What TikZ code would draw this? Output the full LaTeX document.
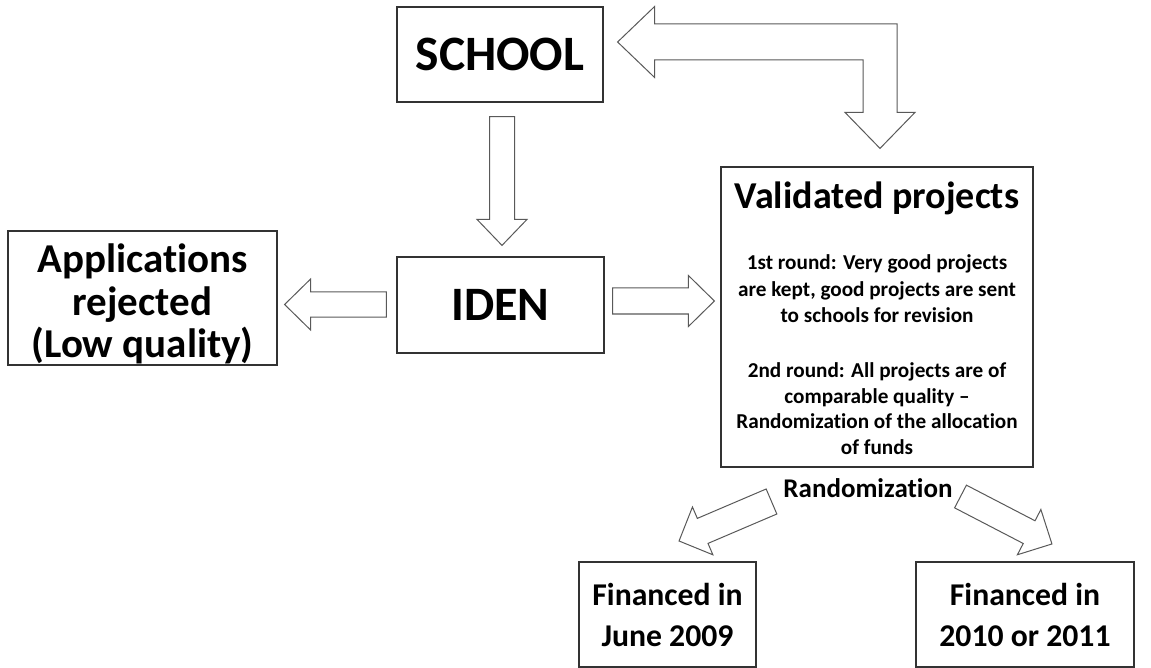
\documentclass[tikz,border=0pt]{standalone}
\usepackage{fontspec}
\setmainfont{Carlito}[Ligatures={TeX,NoCommon}]
\usetikzlibrary{calc}
\tikzset{
  box/.style={draw=black!80, line width=1.2pt, rectangle, inner sep=0pt, align=center, font=\bfseries},
  blk/.style={draw=black!65, line width=1pt, fill=white, line join=miter},
  txt/.style={inner sep=0pt, align=center, font=\bfseries},
}
\newcommand\blockarr[5]{% start, end, half shaft, half head, head length
  \draw[blk] let \p1=(#1), \p2=(#2), \n1={atan2(\y2-\y1,\x2-\x1)}, \n2={veclen(\x2-\x1,\y2-\y1)} in
    [shift={(\p1)}, rotate=\n1]
    (0,-#3) -- (\n2-#5,-#3) -- (\n2-#5,-#4) -- (\n2,0) -- (\n2-#5,#4) -- (\n2-#5,#3) -- (0,#3) -- cycle;}
\begin{document}
\begin{tikzpicture}[x=1pt,y=1pt]
\useasboundingbox (0,0) rectangle (1151,-668);
% boxes
\node[box, minimum width=206, minimum height=95, font=\bfseries\fontsize{49.5}{52}\selectfont] (school) at (500,-54.5) {SCHOOL};
\node[box, minimum width=207, minimum height=96, font=\bfseries\fontsize{48}{52}\selectfont] (iden) at (500.5,-305) {IDEN};
\node[box, minimum width=269, minimum height=134] (app) at (142.5,-298) {};
\node[txt, font=\bfseries\fontsize{41}{42.5}\selectfont] (apptext) at (142.5,-304) {Applications\\rejected\\(Low quality)};
\node[box, minimum width=312, minimum height=300] (valid) at (877,-317) {};
\node[txt, font=\bfseries\fontsize{38}{44}\selectfont] (vtitle) at (877,-198) {Validated projects};
\node[txt, font=\bfseries\fontsize{21.2}{26.5}\selectfont] (p1) at (877,-289) {1st round: Very good projects\\are kept, good projects are sent\\to schools for revision};
\node[txt, font=\bfseries\fontsize{21.2}{25.7}\selectfont] (p2) at (877,-408.5) {2nd round: All projects are of\\comparable quality --\\Randomization of the allocation\\of funds};
\node[txt, font=\bfseries\fontsize{27}{30}\selectfont] (rand) at (868,-488) {Randomization};
\node[box, minimum width=177, minimum height=105, font=\bfseries\fontsize{31.7}{41}\selectfont] (f1) at (667.5,-614.5) {Financed in\\June 2009};
\node[box, minimum width=218, minimum height=105, font=\bfseries\fontsize{31.7}{41}\selectfont] (f2) at (1025,-614.5) {Financed in\\2010 or 2011};
% arrow end points
\coordinate (s1) at ($(school.south)+(2,-14)$);
\coordinate (e1) at ($(iden.north)+(1.5,11)$);
\coordinate (s2) at ($(iden.west)+(-10,0.5)$);
\coordinate (e2) at ($(app.east)+(7,-6.5)$);
\coordinate (s3) at ($(iden.east)+(8,4)$);
\coordinate (e3) at ($(valid.west)+(-6,16)$);
\coordinate (s4) at (771.5,-501.5);
\coordinate (e4) at (679,-541);
\coordinate (s5) at (960.5,-496.5);
\coordinate (e5) at (1052,-544);
\blockarr{s1}{e1}{12.5}{25}{26}
\blockarr{s2}{e2}{12.5}{25.5}{26}
\blockarr{s3}{e3}{13}{25.5}{26}
\blockarr{s4}{e4}{13.6}{26}{25.7}
\blockarr{s5}{e5}{12.8}{25.5}{25.7}
% elbow double connection
\coordinate (t1) at ($(school.east)+(14,12.5)$);
\coordinate (t2) at ($(valid.north)+(3,18)$);
\draw[blk] (t1) -- ++(37,35.5) -- ++(0,-17.5) -| ($(t2)+(17,36)$) -- ++(18,0) -- (t2) -- ++(-35,36) -- ++(18,0) |- ($(t1)+(37,-18)$) -- ++(0,-17.5) -- cycle;
\end{tikzpicture}
\end{document}
